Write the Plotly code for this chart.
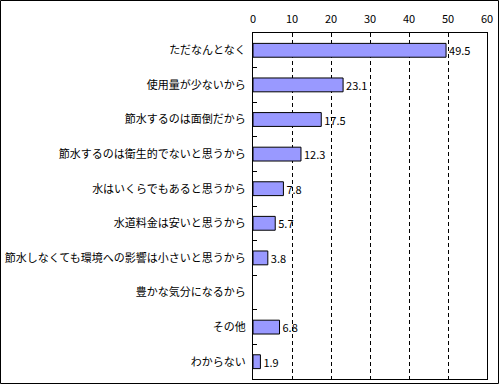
import plotly.graph_objects as go

categories = [
    "ただなんとなく",
    "使用量が少ないから",
    "節水するのは面倒だから",
    "節水するのは衛生的でないと思うから",
    "水はいくらでもあると思うから",
    "水道料金は安いと思うから",
    "節水しなくても環境への影響は小さいと思うから",
    "豊かな気分になるから",
    "その他",
    "わからない",
]
values = [49.5, 23.1, 17.5, 12.3, 7.8, 5.7, 3.8, None, 6.8, 1.9]
value_labels = ["49.5", "23.1", "17.5", "12.3", "7.8", "5.7", "3.8", "", "6.8", "1.9"]
x_ticks = [0, 10, 20, 30, 40, 50, 60]

W, H = 500, 385
ml, mr, mt, mb = 253, 13, 33, 6
pw, ph = W - ml - mr, H - mt - mb

font = "Noto Sans CJK JP, sans-serif"

fig = go.Figure(go.Bar(
    y=categories, x=values, orientation="h",
    text=value_labels, textposition="outside", cliponaxis=False,
    constraintext="none",
    textfont=dict(size=11, color="black", family=font),
    marker=dict(color="#9999FF", line=dict(color="black", width=1)),
    width=0.4,
))

fig.update_layout(
    width=W, height=H,
    margin=dict(l=ml, r=mr, t=mt, b=mb, autoexpand=False),
    paper_bgcolor="white", plot_bgcolor="white",
    showlegend=False,
    font=dict(family=font, size=11, color="black"),
    xaxis=dict(
        side="top", range=[0, 60], tickvals=x_ticks, automargin=False,
        showgrid=True, gridcolor="black", gridwidth=1, griddash="4px,3px",
        showline=True, linecolor="black", linewidth=1, mirror=True,
        zeroline=False, ticks="", tickfont=dict(size=11, family=font),
        ticklabelstandoff=5,
    ),
    yaxis=dict(
        type="category", autorange="reversed", automargin=False,
        showline=True, linecolor="black", linewidth=1, mirror=True,
        ticks="inside", tickson="boundaries", ticklen=4, tickcolor="black",
        showgrid=False, ticklabelstandoff=4,
        tickfont=dict(size=11, family=font),
    ),
    shapes=[dict(
        type="rect", xref="paper", yref="paper",
        x0=-(ml - 0.5) / pw, x1=1 + (mr - 1.5) / pw,
        y0=-(mb - 1.5) / ph, y1=1 + (mt - 0.5) / ph,
        line=dict(color="black", width=1), fillcolor="rgba(0,0,0,0)",
    )],
)

fig.write_html(
    "out.html",
    config={"displayModeBar": False},
    post_script="document.body.style.margin='0';document.body.style.padding='0';",
)
